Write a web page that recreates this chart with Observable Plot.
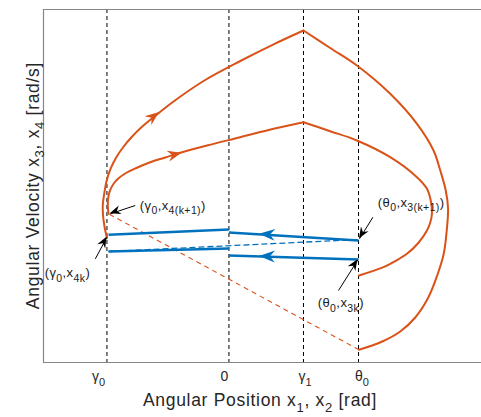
<!DOCTYPE html>
<html><head><meta charset="utf-8">
<script src="https://cdn.jsdelivr.net/npm/d3@7"></script>
<script src="https://cdn.jsdelivr.net/npm/@observablehq/plot@0.6"></script>
<style>body{margin:0;background:#fff}svg{display:block}</style>
</head><body><div id="chart"></div>
<script>
const ORANGE = "#D95319", BLUE = "#0072BD", FONT = "'Liberation Sans', Arial, sans-serif";

// key angles on the x axis
const xTickValues = [-1, 0, 0.611, 1.062];
const xTickLabels = ["γ_0", "0", "γ_1", "θ_0"];
const xLabel = "Angular Position x_1, x_2 [rad]";
const yLabel = "Angular Velocity x_3, x_4 [rad/s]";

// orange trajectories [angle, velocity]
const outerRise = [[-1.000,3.527],[-1.020,3.853],[-1.032,4.164],[-1.034,4.476],[-1.022,4.788],[-1.002,5.156],[-0.969,5.496],[-0.924,5.807],[-0.866,6.105],[-0.797,6.388],[-0.715,6.671],[-0.618,6.949],[-0.454,7.394],[-0.208,7.975],[0.093,8.541],[0.366,9.014],[0.611,9.405]];
const outerFall = [[0.611,9.405],[0.830,8.909],[1.049,8.414],[1.322,7.612],[1.541,6.762],[1.677,6.006],[1.732,5.439],[1.777,4.873],[1.796,4.363],[1.785,3.739],[1.761,3.088],[1.707,2.465],[1.634,1.841],[1.527,1.275],[1.404,0.878],[1.257,0.595],[1.066,0.360]];
const innerRise = [[-0.987,4.212],[-0.993,4.448],[-0.989,4.674],[-0.973,4.887],[-0.944,5.071],[-0.907,5.212],[-0.850,5.354],[-0.768,5.496],[-0.645,5.674],[-0.522,5.807],[-0.399,5.941],[-0.180,6.147],[0.093,6.382],[0.366,6.620],[0.611,6.807]];
const innerFall = [[0.611,6.807],[0.830,6.552],[1.049,6.289],[1.322,5.816],[1.541,5.249],[1.623,4.921],[1.654,4.589],[1.664,4.221],[1.650,3.966],[1.623,3.739],[1.552,3.385],[1.459,3.079],[1.363,2.875],[1.267,2.700],[1.066,2.465]];
const impactJump = [{x1:1.066, y1:0.360, x2:-0.987, y2:4.212}];

// blue segments
const blueSolid = [
  {x1:-0.987, y1:3.618, x2:0, y2:3.768},
  {x1:0, y1:3.683, x2:1.062, y2:3.456},
  {x1:-0.987, y1:3.144, x2:0, y2:3.229},
  {x1:0, y1:3.031, x2:1.062, y2:2.918}
];
const blueDashed = [{x1:-0.987, y1:3.144, x2:1.062, y2:3.484}];

// direction arrows (tail -> tip)
const orangeArrows = [
  {x1:-0.670, y1:6.813, x2:-0.569, y2:7.082},
  {x1:-0.522, y1:5.807, x2:-0.385, y2:5.929}
];
const blueArrows = [
  {x1:0.373, y1:3.603, x2:0.250, y2:3.630},
  {x1:0.373, y1:2.991, x2:0.250, y2:3.004}
];

// annotations
const noteArrows = [
  {x1:-0.768, y1:4.448, x2:-0.973, y2:4.212},
  {x1:-1.095, y1:2.938, x2:-1.000, y2:3.550},
  {x1:1.180, y1:4.116, x2:1.070, y2:3.504},
  {x1:0.898, y1:2.040, x2:1.057, y2:2.909}
];
const noteLabels = [
  {x:-0.727, y:4.306, text:"(γ_0,x_{4(k+1)})"},
  {x:-1.506, y:2.394, text:"(γ_0,x_{4k})"},
  {x:1.224, y:4.391, text:"(θ_0,x_{3(k+1)})"},
  {x:0.732, y:1.558, text:"(θ_0,x_{3k})"}
];

// ---- helpers ----
const tickLabelNudge = [-8, -4, 2, 4];
function richText(parent, str, o) {
  const t = parent.append("text")
    .attr("transform", `translate(${o.x},${o.y})` + (o.rotate ? ` rotate(${o.rotate})` : ""))
    .attr("font-family", FONT).attr("font-size", o.size)
    .attr("text-anchor", o.anchor || "start").attr("fill", o.fill || "#262626")
    .attr("letter-spacing", o.spacing || 0);
  const re = /_\{([^}]*)\}|_(.)/g;
  let last = 0, m, shifted = false;
  const add = (s, sub) => {
    if (!s) return;
    const ts = t.append("tspan").text(s);
    if (sub) { ts.attr("font-size", o.subSize).attr("dy", shifted ? 0 : o.subShift); shifted = true; }
    else { if (shifted) ts.attr("dy", -o.subShift); shifted = false; }
  };
  while ((m = re.exec(str))) {
    add(str.slice(last, m.index), false);
    add(m[1] !== undefined ? m[1] : m[2], true);
    last = re.lastIndex;
  }
  add(str.slice(last), false);
}
const heads = (rows, L, W, notch, fill) => (index, scales) => {
  const g = d3.create("svg:g");
  for (const r of rows) {
    const tx = scales.x(r.x2), ty = scales.y(r.y2), sx = scales.x(r.x1), sy = scales.y(r.y1);
    const a = Math.atan2(ty - sy, tx - sx) * 180 / Math.PI;
    g.append("path").attr("d", `M0,0L${-L},${-W}L${-L + notch},0L${-L},${W}Z`)
      .attr("transform", `translate(${tx},${ty}) rotate(${a})`).attr("fill", fill);
  }
  return g.node();
};
const textMark = (index, scales, values, dims) => {
  const g = d3.create("svg:g");
  const bottom = dims.height - dims.marginBottom;
  xTickValues.forEach((v, i) => richText(g, xTickLabels[i], {x: scales.x(v) + tickLabelNudge[i], y: bottom + 19, size: 14, subSize: 11, subShift: 5, anchor: "middle"}));
  const cx = (dims.marginLeft + dims.width - dims.marginRight) / 2 - 2;
  richText(g, xLabel, {x: cx, y: bottom + 44, size: 17.5, subSize: 13, subShift: 5.5, anchor: "middle", spacing: 0.7});
  const cy = (dims.marginTop + bottom) / 2;
  richText(g, yLabel, {x: 38.5, y: cy, rotate: -90, size: 17.5, subSize: 13, subShift: 5.5, anchor: "middle", spacing: 0.7});
  for (const n of noteLabels) richText(g, n.text, {x: scales.x(n.x), y: scales.y(n.y), size: 13, subSize: 10.5, subShift: 4.5, fill: "#1a1a1a", spacing: 0.4});
  return g.node();
};

const line = (pts, opts) => Plot.line(pts, {x: d => d[0], y: d => d[1], curve: "catmull-rom", ...opts});

const chart = Plot.plot({
  width: 481, height: 417,
  marginLeft: 43, marginRight: 0, marginTop: 9, marginBottom: 55,
  x: {domain: [-1.52, 2.07], axis: null},
  y: {domain: [0, 10], axis: null},
  style: {fontFamily: FONT, background: "#fff"},
  marks: [
    Plot.ruleX(xTickValues, {stroke: "#000", strokeWidth: 1, strokeDasharray: "4,3"}),
    Plot.ruleX([-1.52], {stroke: "#878787", strokeWidth: 1.2}),
    Plot.ruleY([0, 10], {stroke: "#878787", strokeWidth: 1.2}),
    Plot.link(impactJump, {x1: "x1", y1: "y1", x2: "x2", y2: "y2", stroke: ORANGE, strokeWidth: 1.1, strokeDasharray: "5,4"}),
    line(outerRise, {stroke: ORANGE, strokeWidth: 2}),
    line(outerFall, {stroke: ORANGE, strokeWidth: 2}),
    line(innerRise, {stroke: ORANGE, strokeWidth: 2}),
    line(innerFall, {stroke: ORANGE, strokeWidth: 2}),
    Plot.link(blueDashed, {x1: "x1", y1: "y1", x2: "x2", y2: "y2", stroke: BLUE, strokeWidth: 1.3, strokeDasharray: "6,3"}),
    Plot.link(blueSolid, {x1: "x1", y1: "y1", x2: "x2", y2: "y2", stroke: BLUE, strokeWidth: 2.6}),
    heads(orangeArrows, 14, 5.5, 4.5, ORANGE),
    heads(blueArrows, 16, 6, 5, BLUE),
    Plot.link(noteArrows, {x1: "x1", y1: "y1", x2: "x2", y2: "y2", stroke: "#000", strokeWidth: 1}),
    heads(noteArrows, 11, 4.5, 3.5, "#000"),
    textMark
  ]
});
document.getElementById("chart").appendChild(chart);
</script>
</body></html>
